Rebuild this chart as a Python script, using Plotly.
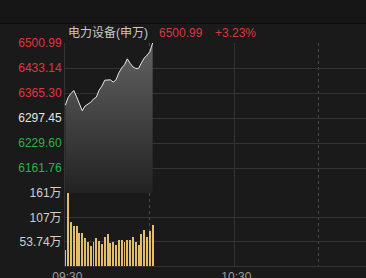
import plotly.graph_objects as go

# ---- data ----
minutes = list(range(32))  # minutes since 09:30
prices = [6332, 6353, 6364, 6372, 6355, 6335, 6317, 6330, 6335, 6340,
          6349, 6354, 6373, 6384, 6400, 6401, 6401, 6395, 6401, 6420,
          6433, 6442, 6458, 6446, 6436, 6432, 6432, 6447, 6460, 6468,
          6477, 6500.99]
volumes = [36, 161.2, 97, 88.5, 88, 72, 72, 61, 52.5, 43.5,
           52.5, 61, 55, 49.5, 63, 70, 50, 52.5, 47, 58,
           57, 53, 58.5, 58.5, 64.5, 54, 47, 70.5, 79, 65,
           76.5, 91]
pre_close = 6297.45
price_ticks = [6161.76, 6229.60, 6297.45, 6365.30, 6433.14, 6500.99]
price_range = [6093.91, 6500.99]
vol_ticks = [53.74, 107.5, 161.2]
vol_tick_text = ["53.74万", "107万", "161万"]
time_ticks = [0, 60]
time_tick_text = ["09:30", "10:30"]
dotted_ticks = [30, 90]
title = "电力设备(申万)"

RED = "#e3333a"
GREEN = "#2bb24c"
WHITE = "#e4e4e4"
GRID = "#333333"
BG = "#1a1a1a"

def col(v):
    if v > pre_close + 0.01:
        return RED
    if v < pre_close - 0.01:
        return GREEN
    return WHITE

price_tick_text = [f"<span style='color:{col(v)}'>{v:.2f}</span>" for v in price_ticks]

W, H = 366, 278
L, R, T, B = 65, 0, 43, 12
plot_h = H - T - B
plot_w = W - L - R
px_per_min = 169 / 60
x0 = -0.12
x_range = [x0, x0 + plot_w / px_per_min]
split = (266 - 193) / plot_h

fig = go.Figure()
fig.add_trace(go.Scatter(
    x=minutes, y=prices, mode="lines",
    line=dict(color="#e8e8e8", width=1),
    fill="tozeroy",
    fillgradient=dict(type="vertical", start=price_range[0], stop=price_range[1],
                      colorscale=[[0, "#222222"], [1, "#626262"]]),
    xaxis="x", yaxis="y", hoverinfo="skip",
))
fig.add_trace(go.Bar(
    x=minutes, y=volumes, width=0.33,
    marker=dict(color="#e3bd6e", line=dict(width=0)),
    xaxis="x", yaxis="y2", hoverinfo="skip",
))

last = prices[-1]
pct = (last / pre_close - 1) * 100

def pxx(p):
    return (p - L) / plot_w

def pxy(p):
    return (H - B - p) / plot_h

font_family = "Liberation Sans, Arial, Noto Sans CJK SC"

fig.update_layout(
    width=W, height=H,
    margin=dict(l=L, r=R, t=T, b=B, pad=0, autoexpand=False),
    paper_bgcolor=BG, plot_bgcolor=BG,
    showlegend=False,
    font=dict(family=font_family, size=12, color="#c8c8c8"),
    bargap=0,
    xaxis=dict(
        domain=[0, 1], range=x_range, anchor="y2", automargin=False,
        tickmode="array", tickvals=time_ticks, ticktext=time_tick_text,
        showgrid=True, gridcolor=GRID, gridwidth=1,
        showline=True, linecolor=GRID, linewidth=1,
        ticks="", zeroline=False, ticklabelshift=2,
        tickfont=dict(color="#9a9a9a", size=12),
        minor=dict(tickmode="array", tickvals=dotted_ticks, showgrid=True,
                   gridcolor="#4a4a4a", griddash="dot", gridwidth=1, ticks=""),
    ),
    yaxis=dict(
        domain=[split, 1], range=price_range, automargin=False,
        tickmode="array", tickvals=price_ticks, ticktext=price_tick_text,
        showgrid=True, gridcolor=GRID, gridwidth=1,
        showline=True, linecolor=GRID, linewidth=1,
        ticks="", zeroline=False, tickfont=dict(size=12),
        ticklabelstandoff=0,
    ),
    yaxis2=dict(
        domain=[0, split], range=[0, vol_ticks[-1]], automargin=False,
        tickmode="array", tickvals=vol_ticks, ticktext=vol_tick_text,
        showgrid=True, gridcolor=GRID, gridwidth=1,
        showline=True, linecolor=GRID, linewidth=1,
        ticks="", zeroline=False, tickfont=dict(size=12, color="#cfcfcf"),
        ticklabelstandoff=0,
    ),
    shapes=[
        dict(type="rect", xref="paper", yref="paper",
             x0=pxx(0), x1=pxx(W), y0=pxy(23), y1=pxy(0),
             fillcolor="#161616", line=dict(width=0), layer="below"),
        dict(type="line", xref="paper", yref="paper",
             x0=pxx(0), x1=pxx(W), y0=pxy(23.5), y1=pxy(23.5),
             line=dict(color="#0c0c0c", width=1)),
    ],
    annotations=[
        dict(text=title, xref="paper", yref="paper", x=pxx(66), y=pxy(33),
             xanchor="left", yanchor="middle", showarrow=False,
             font=dict(size=12, color="#c8c8c8")),
        dict(text=f"{last:.2f}", xref="paper", yref="paper", x=pxx(157), y=pxy(33),
             xanchor="left", yanchor="middle", showarrow=False,
             font=dict(size=12, color="#d8393c")),
        dict(text=f"+{pct:.2f}%", xref="paper", yref="paper", x=pxx(213), y=pxy(33),
             xanchor="left", yanchor="middle", showarrow=False,
             font=dict(size=12, color="#d8393c")),
    ],
)

fig.write_html("out.html", config={"displayModeBar": False})
